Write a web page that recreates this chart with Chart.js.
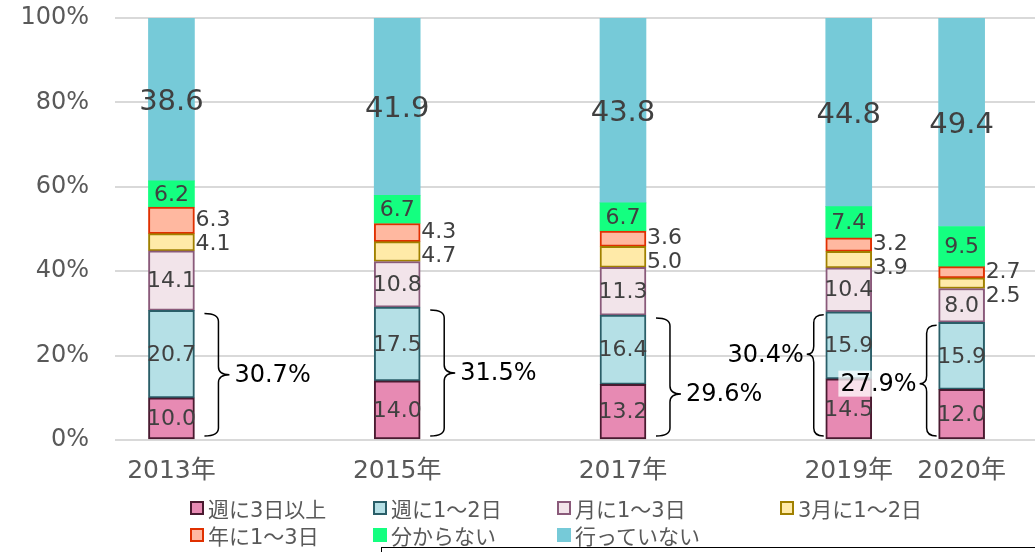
<!DOCTYPE html>
<html>
<head>
<meta charset="utf-8">
<script src="https://cdn.jsdelivr.net/npm/chart.js@4"></script>
<style>
  body { margin: 0; background: #fff; }
  #wrap { position: relative; width: 1035px; height: 552px; overflow: hidden; }
  #legend { position: absolute; left: 0; top: 0; width: 1035px; height: 552px; pointer-events: none;
    font-family: "DejaVu Sans", "Noto Sans CJK JP", sans-serif; font-size: 21px; color: #595959; }
  .item { position: absolute; display: flex; align-items: center; white-space: nowrap; }
  .box { width: 10px; height: 10px; border: 2px solid; margin-right: 4px; }
  #note { position: absolute; left: 381px; top: 547px; width: 700px; height: 40px; border: 1.5px solid #000; }
</style>
</head>
<body>
<div id="wrap">
  <canvas id="chart" width="1035" height="552"></canvas>
  <div id="legend"></div>
  <div id="note"></div>
</div>
<script>
const years = [2013, 2015, 2017, 2019, 2020];
const seriesNames = ['週に3日以上', '週に1～2日', '月に1～3日', '3月に1～2日', '年に1～3日', '分からない', '行っていない'];
const week3plus = [10.0, 14.0, 13.2, 14.5, 12.0];
const week1to2 = [20.7, 17.5, 16.4, 15.9, 15.9];
const month1to3 = [14.1, 10.8, 11.3, 10.4, 8.0];
const quarter1to2 = [4.1, 4.7, 5.0, 3.9, 2.5];
const year1to3 = [6.3, 4.3, 3.6, 3.2, 2.7];
const unknown = [6.2, 6.7, 6.7, 7.4, 9.5];
const never = [38.6, 41.9, 43.8, 44.8, 49.4];
const bracketTotals = ['30.7%', '31.5%', '29.6%', '30.4%', '27.9%'];
const bracketSide = ['right', 'right', 'right', 'left', 'left'];
const bracketTipShift = [0, 0, 17, -21, 3];

const fills = ['#E78AB3', '#B5E0E6', '#F2E4EA', '#FFEAA8', '#FFB8A0', '#14FF80', '#76CAD8'];
const borders = ['#4A1A30', '#2A5E68', '#8A5A7A', '#A08000', '#E03000', '#14FF80', '#76CAD8'];
const allSeries = [week3plus, week1to2, month1to3, quarter1to2, year1to3, unknown, never];

const FONT = '"DejaVu Sans", "Noto Sans CJK JP", sans-serif';

const datasets = allSeries.map((vals, i) => ({
  label: seriesNames[i],
  data: years.map((yr, j) => ({ x: yr, y: vals[j] })),
  backgroundColor: fills[i],
  borderColor: borders[i],
  borderWidth: i < 5 ? 2 : 0,
  borderSkipped: false,
  barThickness: 46
}));

const labelPlugin = {
  id: 'labels',
  afterDatasetsDraw(chart) {
    const ctx = chart.ctx;
    ctx.save();
    ctx.textBaseline = 'middle';
    years.forEach((yr, j) => {
      let redY = null;
      [4, 3, 0, 1, 2, 5, 6].forEach(i => {
        const el = chart.getDatasetMeta(i).data[j];
        const v = allSeries[i][j].toFixed(1);
        const cy = (el.y + el.base) / 2;
        ctx.fillStyle = '#404040';
        if (i === 4) {
          ctx.font = '22px ' + FONT;
          ctx.textAlign = 'left';
          redY = cy;
          ctx.fillText(v, el.x + 24, cy);
        } else if (i === 3) {
          ctx.font = '22px ' + FONT;
          ctx.textAlign = 'left';
          ctx.fillText(v, el.x + 24, Math.max(cy, redY + 24));
        } else {
          ctx.font = (i === 6 ? '29px ' : '22px ') + FONT;
          ctx.textAlign = 'center';
          ctx.fillText(v, el.x, cy + (i === 6 ? 3 : 1));
        }
      });

      // brace over the first two segments
      const el0 = chart.getDatasetMeta(0).data[j];
      const el1 = chart.getDatasetMeta(1).data[j];
      const top = el1.y + 3;
      const bottom = el0.base - 3;
      const mid = (top + bottom) / 2 + bracketTipShift[j];
      const r = 8;
      let endX, spineX, tipX;
      if (bracketSide[j] === 'right') {
        endX = el0.x + 23 + 10; spineX = el0.x + 23 + 24; tipX = el0.x + 23 + 35;
      } else {
        endX = el0.x - 23 - 2; spineX = el0.x - 23 - 12; tipX = el0.x - 23 - 19;
      }
      ctx.strokeStyle = '#000';
      ctx.lineWidth = 1.5;
      ctx.beginPath();
      ctx.moveTo(endX, top);
      ctx.quadraticCurveTo(spineX, top, spineX, top + r);
      ctx.lineTo(spineX, mid - r);
      ctx.quadraticCurveTo(spineX, mid, tipX, mid);
      ctx.quadraticCurveTo(spineX, mid, spineX, mid + r);
      ctx.lineTo(spineX, bottom - r);
      ctx.quadraticCurveTo(spineX, bottom, endX, bottom);
      ctx.stroke();

      ctx.font = '24px ' + FONT;
      const txt = bracketTotals[j];
      if (bracketSide[j] === 'right') {
        ctx.textAlign = 'left';
        ctx.fillStyle = '#000';
        ctx.fillText(txt, tipX + 5, mid + 1);
      } else {
        ctx.textAlign = 'right';
        const w = ctx.measureText(txt).width;
        if (j === years.length - 1) {
          ctx.fillStyle = 'rgba(255,255,255,0.75)';
          ctx.fillRect(tipX - 3 - w - 2, mid - 13, w + 4, 26);
        }
        ctx.fillStyle = '#000';
        ctx.fillText(txt, tipX - 3, mid + 1);
      }
    });
    ctx.restore();
  }
};

new Chart(document.getElementById('chart'), {
  type: 'bar',
  data: { datasets },
  options: {
    responsive: false,
    animation: false,
    layout: { padding: { top: 18, right: 0, left: 0, bottom: 0 } },
    plugins: { legend: { display: false }, tooltip: { enabled: false } },
    scales: {
      x: {
        type: 'linear',
        stacked: true,
        offset: false,
        min: 2012.5,
        max: 2020.65,
        grid: { display: false },
        border: { display: false },
        afterBuildTicks: axis => { axis.ticks = years.map(v => ({ value: v })); },
        afterFit: scale => { scale.height = 112; },
        ticks: {
          autoSkip: false,
          maxRotation: 0,
          padding: 8,
          color: '#595959',
          font: { family: FONT, size: 25 },
          callback: v => v + '年'
        }
      },
      y: {
        stacked: true,
        min: 0,
        max: 100,
        grid: { color: '#D9D9D9', lineWidth: 2, drawTicks: false },
        border: { display: false },
        afterFit: scale => {
          scale.width = 115;
          scale.paddingTop = 12;
          scale.paddingBottom = 12;
        },
        ticks: {
          stepSize: 20,
          padding: 26,
          color: '#595959',
          font: { family: FONT, size: 24 },
          callback: v => v + '%'
        }
      }
    }
  },
  plugins: [labelPlugin]
});

// legend laid out in columns like the original
const legendCols = [190, 373, 557, 780];
const legendRows = [508, 535];
const legend = document.getElementById('legend');
seriesNames.forEach((name, i) => {
  const row = i < 4 ? 0 : 1;
  const col = i < 4 ? i : i - 4;
  const item = document.createElement('div');
  item.className = 'item';
  item.style.left = legendCols[col] + 'px';
  item.style.top = (legendRows[row] - 13) + 'px';
  item.style.height = '26px';
  const box = document.createElement('span');
  box.className = 'box';
  box.style.background = fills[i];
  box.style.borderColor = i < 5 ? borders[i] : fills[i];
  item.appendChild(box);
  item.appendChild(document.createTextNode(name));
  legend.appendChild(item);
});
</script>
</body>
</html>
